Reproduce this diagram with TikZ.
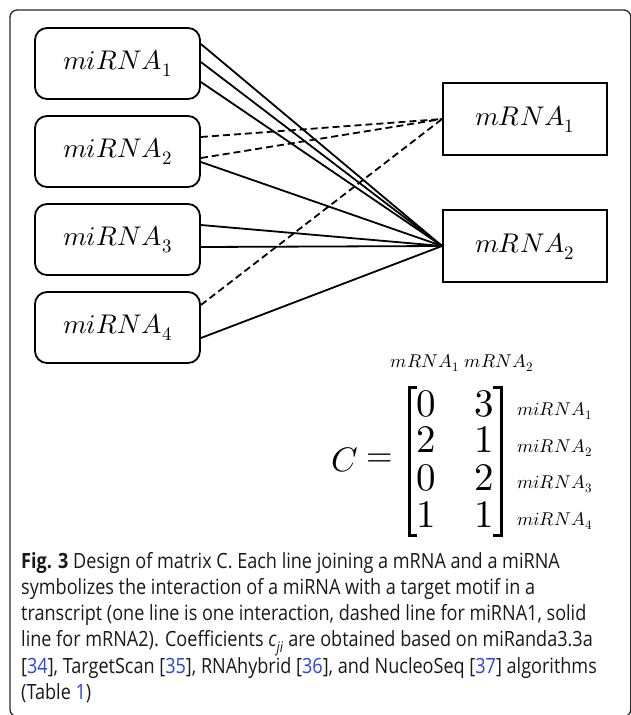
\documentclass[tikz,border=0pt]{standalone}
\usepackage{fontspec}
\usepackage{unicode-math}
\newfontfamily\capfont{Open Sans}[FakeStretch=0.86]
\definecolor{reflink}{RGB}{40,70,225}
\definecolor{framegray}{RGB}{40,40,40}
\definecolor{captext}{RGB}{25,25,25}
\begin{document}
\begin{tikzpicture}[x=1pt,y=-1pt,
  mirna/.style={draw, line width=1.8pt, rounded corners=12pt, minimum width=165pt,
    minimum height=71pt, inner sep=0pt, font=\fontsize{27}{30}\selectfont},
  mrna/.style={draw, line width=1.8pt, minimum width=164pt, minimum height=72pt,
    inner sep=0pt, font=\fontsize{27}{30}\selectfont},
  link/.style={line width=1.8pt},
  dlink/.style={line width=1.8pt, dash pattern=on 7pt off 4pt},
  entry/.style={inner sep=0pt, font=\fontsize{39}{42}\selectfont},
  smalllabel/.style={inner sep=0pt, font=\fontsize{18.5}{20}\selectfont},
  bracket/.style={line width=3pt},
  capline/.style={anchor=base west, inner sep=0pt, text=captext,
    font=\capfont\fontsize{21}{26}\selectfont}
]
\useasboundingbox (0,0) rectangle (630,715);

% outer frame
\draw[framegray, line width=1.3pt, rounded corners=7pt] (10,10) rectangle (630.8,716.5);

% miRNA boxes
\node[mirna] (mi1) at (117.5,63.5)  {$miRNA_1$};
\node[mirna] (mi2) at (117.5,151.5) {$miRNA_2$};
\node[mirna] (mi3) at (117.5,239.5) {$miRNA_3$};
\node[mirna] (mi4) at (117.5,327.5) {$miRNA_4$};

% mRNA boxes
\node[mrna] (m1) at (525,119) {$mRNA_1$};
\node[mrna] (m2) at (525,246) {$mRNA_2$};

% interactions with mRNA_1 (dashed)
\draw[dlink] ([yshift=14.5pt]mi2.east) -- (m1.west);
\draw[dlink] ([yshift=-6.5pt]mi2.east) -- (m1.west);
\draw[dlink] ([yshift=22.5pt]mi4.east) -- (m1.west);

% interactions with mRNA_2 (solid)
\draw[link] ([yshift=19.5pt]mi1.east) -- (m2.west);
\draw[link] ([yshift=1.5pt]mi1.east) -- (m2.west);
\draw[link] ([yshift=-18.5pt]mi1.east) -- (m2.west);
\draw[link] ([yshift=-10.5pt]mi2.east) -- (m2.west);
\draw[link] ([yshift=14.5pt]mi3.east) -- (m2.west);
\draw[link] ([yshift=-7.5pt]mi3.east) -- (m2.west);
\draw[link] ([yshift=-10.5pt]mi4.east) -- (m2.west);

% matrix C
\node[smalllabel, anchor=base] (h1) at (425,367) {$mRNA_1$};
\node[smalllabel, anchor=base] (h2) at (499,367) {$mRNA_2$};

\node[inner sep=0pt, font=\fontsize{34}{36}\selectfont] (cname) at (345,460) {$C$};
\node[inner sep=0pt, font=\fontsize{34}{36}\selectfont] (eq) at (380,460) {$=$};

\draw[bracket] (417,387) -- (409.5,387) -- (409.5,535) -- (417,535);
\draw[bracket] (493,387) -- (501,387) -- (501,535) -- (493,535);

\node[entry] (c11) at (426,404) {$0$};
\node[entry] (c12) at (484,404) {$3$};
\node[entry] (c21) at (426,440) {$2$};
\node[entry] (c22) at (484,440) {$1$};
\node[entry] (c31) at (426,478) {$0$};
\node[entry] (c32) at (484,478) {$2$};
\node[entry] (c41) at (426,515) {$1$};
\node[entry] (c42) at (484,515) {$1$};

\node[smalllabel, anchor=base west] (r1) at (517,415) {$miRNA_1$};
\node[smalllabel, anchor=base west] (r2) at (517,452) {$miRNA_2$};
\node[smalllabel, anchor=base west] (r3) at (517,488) {$miRNA_3$};
\node[smalllabel, anchor=base west] (r4) at (517,525) {$miRNA_4$};

% caption
\node[capline] (cap1) at (21,568)   {\textbf{Fig. 3} Design of matrix C. Each line joining a mRNA and a miRNA};
\node[capline] (cap2) at (21,594.3) {symbolizes the interaction of a miRNA with a target motif in a};
\node[capline] (cap3) at (21,620.6) {transcript (one line is one interaction, dashed line for miRNA1, solid};
\node[capline] (cap4) at (21,646.9) {line for mRNA2). Coefficients \textit{c}\textsubscript{\textit{ji}} are obtained based on miRanda3.3a};
\node[capline] (cap5) at (21,673.2) {[\textcolor{reflink}{34}], TargetScan [\textcolor{reflink}{35}], RNAhybrid [\textcolor{reflink}{36}], and NucleoSeq [\textcolor{reflink}{37}] algorithms};
\node[capline] (cap6) at (21,699.5) {(Table \textcolor{reflink}{1})};
\end{tikzpicture}
\end{document}
